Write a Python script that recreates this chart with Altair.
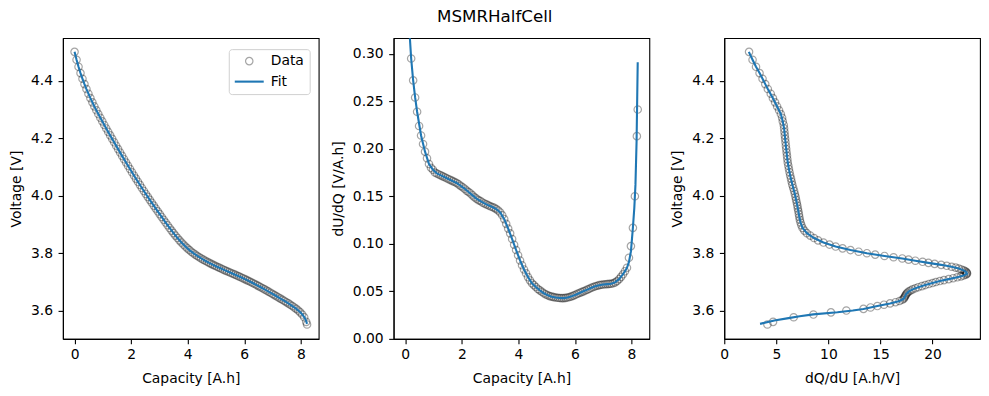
import altair as alt
import pandas as pd

capacity = [0.00, 0.07, 0.14, 0.21, 0.28, 0.35, 0.42, 0.49, 0.56, 0.63,
            0.70, 0.77, 0.84, 0.91, 0.98, 1.05, 1.12, 1.19, 1.26, 1.33,
            1.40, 1.47, 1.54, 1.61, 1.68, 1.75, 1.82, 1.89, 1.96, 2.03,
            2.10, 2.17, 2.24, 2.31, 2.38, 2.45, 2.52, 2.59, 2.66, 2.73,
            2.80, 2.87, 2.94, 3.01, 3.08, 3.15, 3.22, 3.29, 3.36, 3.43,
            3.50, 3.57, 3.64, 3.71, 3.78, 3.85, 3.92, 3.99, 4.06, 4.13,
            4.20, 4.27, 4.34, 4.41, 4.48, 4.55, 4.62, 4.69, 4.76, 4.83,
            4.90, 4.97, 5.04, 5.11, 5.18, 5.25, 5.32, 5.39, 5.46, 5.53,
            5.60, 5.67, 5.74, 5.81, 5.88, 5.95, 6.02, 6.09, 6.16, 6.23,
            6.30, 6.37, 6.44, 6.51, 6.58, 6.65, 6.72, 6.79, 6.86, 6.93,
            7.00, 7.07, 7.14, 7.21, 7.28, 7.35, 7.42, 7.49, 7.56, 7.63,
            7.70, 7.77, 7.84, 7.91, 7.98, 8.05, 8.12, 8.19, 8.22]

voltage = [4.5000, 4.4724, 4.4480, 4.4262, 4.4064, 4.3879, 4.3707, 4.3545, 4.3391, 4.3245,
           4.3104, 4.2969, 4.2838, 4.2710, 4.2585, 4.2461, 4.2339, 4.2218, 4.2097, 4.1977,
           4.1857, 4.1739, 4.1621, 4.1503, 4.1387, 4.1271, 4.1156, 4.1041, 4.0928, 4.0816,
           4.0705, 4.0595, 4.0486, 4.0379, 4.0272, 4.0167, 4.0063, 3.9961, 3.9859, 3.9758,
           3.9658, 3.9558, 3.9460, 3.9362, 3.9264, 3.9167, 3.9071, 3.8976, 3.8883, 3.8791,
           3.8701, 3.8614, 3.8531, 3.8452, 3.8376, 3.8305, 3.8237, 3.8174, 3.8114, 3.8058,
           3.8006, 3.7956, 3.7909, 3.7865, 3.7823, 3.7782, 3.7744, 3.7706, 3.7670, 3.7635,
           3.7601, 3.7567, 3.7535, 3.7503, 3.7472, 3.7441, 3.7410, 3.7380, 3.7350, 3.7320,
           3.7290, 3.7260, 3.7229, 3.7199, 3.7168, 3.7136, 3.7104, 3.7071, 3.7038, 3.7003,
           3.6969, 3.6933, 3.6898, 3.6861, 3.6824, 3.6786, 3.6748, 3.6709, 3.6669, 3.6630,
           3.6590, 3.6550, 3.6509, 3.6469, 3.6428, 3.6388, 3.6346, 3.6304, 3.6261, 3.6216,
           3.6169, 3.6121, 3.6070, 3.6014, 3.5950, 3.5875, 3.5781, 3.5620, 3.5530]

dudq = [0.420, 0.368, 0.328, 0.295, 0.272, 0.254, 0.239, 0.224, 0.214, 0.205,
        0.197, 0.190, 0.184, 0.180, 0.178, 0.175, 0.174, 0.173, 0.172, 0.171,
        0.170, 0.169, 0.168, 0.167, 0.166, 0.165, 0.164, 0.1625, 0.161, 0.1595,
        0.158, 0.156, 0.1545, 0.153, 0.151, 0.149, 0.1475, 0.146, 0.145, 0.1435,
        0.1425, 0.1415, 0.1405, 0.1395, 0.1387, 0.1378, 0.1365, 0.135, 0.133, 0.130,
        0.126, 0.121, 0.116, 0.111, 0.105, 0.099, 0.0935, 0.088, 0.0825, 0.0775,
        0.073, 0.069, 0.065, 0.0615, 0.0585, 0.0565, 0.0545, 0.0525, 0.051, 0.0495,
        0.048, 0.0468, 0.0458, 0.045, 0.0444, 0.0439, 0.0435, 0.0432, 0.0430, 0.0429,
        0.0429, 0.0431, 0.0435, 0.0440, 0.0447, 0.0455, 0.0464, 0.0474, 0.0483, 0.0492,
        0.0500, 0.0509, 0.0518, 0.0527, 0.0537, 0.0545, 0.0553, 0.0559, 0.0565, 0.0569,
        0.0572, 0.0574, 0.0576, 0.0578, 0.0580, 0.0585, 0.0594, 0.0608, 0.0628, 0.0652,
        0.0680, 0.0712, 0.0748, 0.0853, 0.0976, 0.1168, 0.150, 0.2133, 0.2413]

# ---- fitted model curve ----
fit_capacity = [0.00, 0.07, 0.14, 0.21, 0.28, 0.35, 0.42, 0.56, 0.70, 0.84,
                0.98, 1.12, 1.26, 1.40, 1.54, 1.68, 1.82, 1.96, 2.10, 2.24,
                2.38, 2.52, 2.66, 2.80, 2.94, 3.08, 3.22, 3.36, 3.50, 3.64,
                3.78, 3.92, 4.06, 4.20, 4.34, 4.48, 4.62, 4.76, 4.90, 5.04,
                5.18, 5.32, 5.46, 5.60, 5.74, 5.88, 6.02, 6.16, 6.30, 6.44,
                6.58, 6.72, 6.86, 7.00, 7.14, 7.28, 7.42, 7.56, 7.70, 7.77,
                7.84, 7.91, 7.98, 8.05, 8.10, 8.14, 8.18, 8.22]

fit_voltage = [4.5000, 4.4724, 4.4480, 4.4262, 4.4064, 4.3879, 4.3707, 4.3391, 4.3104, 4.2838,
               4.2585, 4.2339, 4.2097, 4.1857, 4.1621, 4.1387, 4.1156, 4.0928, 4.0705, 4.0486,
               4.0272, 4.0063, 3.9859, 3.9658, 3.9460, 3.9264, 3.9071, 3.8883, 3.8701, 3.8531,
               3.8376, 3.8237, 3.8114, 3.8006, 3.7909, 3.7823, 3.7744, 3.7670, 3.7601, 3.7535,
               3.7472, 3.7410, 3.7350, 3.7290, 3.7229, 3.7168, 3.7104, 3.7038, 3.6969, 3.6898,
               3.6824, 3.6748, 3.6669, 3.6590, 3.6509, 3.6428, 3.6346, 3.6261, 3.6169, 3.6121,
               3.6070, 3.6016, 3.5955, 3.5880, 3.5815, 3.5750, 3.5670, 3.5550]

fit_dudq = [0.424, 0.368, 0.328, 0.295, 0.272, 0.254, 0.239, 0.214, 0.197, 0.184,
            0.178, 0.174, 0.172, 0.170, 0.168, 0.166, 0.164, 0.161, 0.158, 0.1545,
            0.151, 0.1475, 0.145, 0.1425, 0.1405, 0.1387, 0.1365, 0.133, 0.126, 0.116,
            0.105, 0.0935, 0.0825, 0.073, 0.065, 0.0585, 0.0545, 0.051, 0.048, 0.0458,
            0.0444, 0.0435, 0.0430, 0.0429, 0.0435, 0.0447, 0.0464, 0.0483, 0.0500, 0.0518,
            0.0537, 0.0553, 0.0565, 0.0572, 0.0576, 0.0580, 0.0594, 0.0628, 0.0680, 0.0712,
            0.0748, 0.081, 0.092, 0.117, 0.138, 0.162, 0.208, 0.291]

series_names = ["Data", "Fit"]

data_df = pd.DataFrame({"Q": capacity, "V": voltage, "dudq": dudq})
data_df["series"] = series_names[0]
fit_df = pd.DataFrame({"Q": fit_capacity, "V": fit_voltage, "dudq": fit_dudq})
fit_df["series"] = series_names[1]

FONT = "DejaVu Sans"
FS = 13.9
W, H = 256, 301
BLUE = "#1f77b4"
PT_OP = 0.35

v_scale = alt.Scale(domain=[3.503, 4.5475], nice=False, zero=False)
q_scale = alt.Scale(domain=[-0.411, 8.631], nice=False, zero=False)

x_q = alt.X("Q:Q", title="Capacity [A.h]", scale=q_scale,
            axis=alt.Axis(values=[0, 2, 4, 6, 8], format="d"))
y_v = alt.Y("V:Q", title="Voltage [V]", scale=v_scale,
            axis=alt.Axis(values=[3.6, 3.8, 4.0, 4.2, 4.4], format=".1f"))

leg = alt.Legend(title=None, orient="none", legendX=166, legendY=11,
                 padding=5, cornerRadius=3, strokeColor="#d0d0d0",
                 fillColor="white", labelFont=FONT, labelFontSize=FS,
                 labelColor="black", rowPadding=5, labelOffset=13,
                 symbolOffset=7)

color_enc = alt.Color("series:N", scale=alt.Scale(domain=series_names, range=["#000000", BLUE]), legend=leg)
op_enc = alt.Opacity("series:N", scale=alt.Scale(domain=series_names, range=[PT_OP, 1.0]), legend=leg)
shape_enc = alt.Shape("series:N", scale=alt.Scale(domain=series_names, range=["circle", "M-2,0H2"]), legend=leg)
size_enc = alt.Size("series:N", scale=alt.Scale(domain=series_names, range=[55, 210]), legend=leg)
sw_enc = alt.StrokeWidth("series:N", scale=alt.Scale(domain=series_names, range=[1.2, 2.1]), legend=leg)

# panel 1
pts1 = alt.Chart(data_df).mark_point(filled=False).encode(
    x=x_q, y=y_v, color=color_enc, opacity=op_enc, shape=shape_enc,
    size=size_enc, strokeWidth=sw_enc, order=alt.Order("Q:Q"))
line1 = alt.Chart(fit_df).mark_line().encode(
    x=x_q, y=y_v, color=color_enc, opacity=op_enc, strokeWidth=sw_enc,
    order=alt.Order("Q:Q"))
p1 = alt.layer(pts1, line1).properties(width=W, height=H)

# panel 2
y_d = alt.Y("dudq:Q", title="dU/dQ [V/A.h]",
            scale=alt.Scale(domain=[0, 0.3164], nice=False, zero=False),
            axis=alt.Axis(values=[0, 0.05, 0.10, 0.15, 0.20, 0.25, 0.30], format=".2f"))
pts2 = alt.Chart(data_df).mark_point(filled=False, shape="circle", size=55, strokeWidth=1.2,
                                     color="black", opacity=PT_OP, clip=True).encode(
    x=x_q, y=y_d)
line2 = alt.Chart(fit_df).mark_line(color=BLUE, strokeWidth=2.1, clip=True).encode(
    x=x_q, y=y_d, order=alt.Order("Q:Q"))
p2 = alt.layer(pts2, line2).properties(width=W, height=H)

# panel 3
x_r = alt.X("dqdu:Q", title="dQ/dU [A.h/V]",
            scale=alt.Scale(domain=[0, 24.56], nice=False, zero=False),
            axis=alt.Axis(values=[0, 5, 10, 15, 20], format="d"))
pts3 = alt.Chart(data_df).transform_calculate(dqdu="1 / datum.dudq").mark_point(
    filled=False, shape="circle", size=55, strokeWidth=1.2, color="black", opacity=PT_OP,
    clip=True).encode(x=x_r, y=y_v)
line3 = alt.Chart(fit_df).transform_calculate(dqdu="1 / datum.dudq").mark_line(
    color=BLUE, strokeWidth=2.1, clip=True).encode(x=x_r, y=y_v, order=alt.Order("Q:Q"))
p3 = alt.layer(pts3, line3).properties(width=W, height=H)

chart = alt.hconcat(p1, p2, p3, spacing=75, bounds="flush").properties(
    title=alt.TitleParams("MSMRHalfCell", font=FONT, fontSize=16.7, fontWeight="normal",
                          color="black", anchor="middle", offset=12),
    padding={"left": 0, "top": 0, "right": 0, "bottom": 0},
).configure_view(stroke="black", strokeWidth=1.1).configure_axis(
    labelFont=FONT, labelFontSize=FS, labelColor="black",
    titleFont=FONT, titleFontSize=FS, titleFontWeight="normal", titleColor="black",
    tickColor="black", tickSize=4.9, tickWidth=1.1, domainColor="black", domainWidth=1.1,
    grid=False, labelPadding=4, titlePadding=6, labelFlush=False, labelOverlap=False,
).configure_axisX(titlePadding=10).configure_axisY(labelPadding=5.5, titlePadding=7)

chart.save("out.html", embed_options={"renderer": "svg", "actions": False})
